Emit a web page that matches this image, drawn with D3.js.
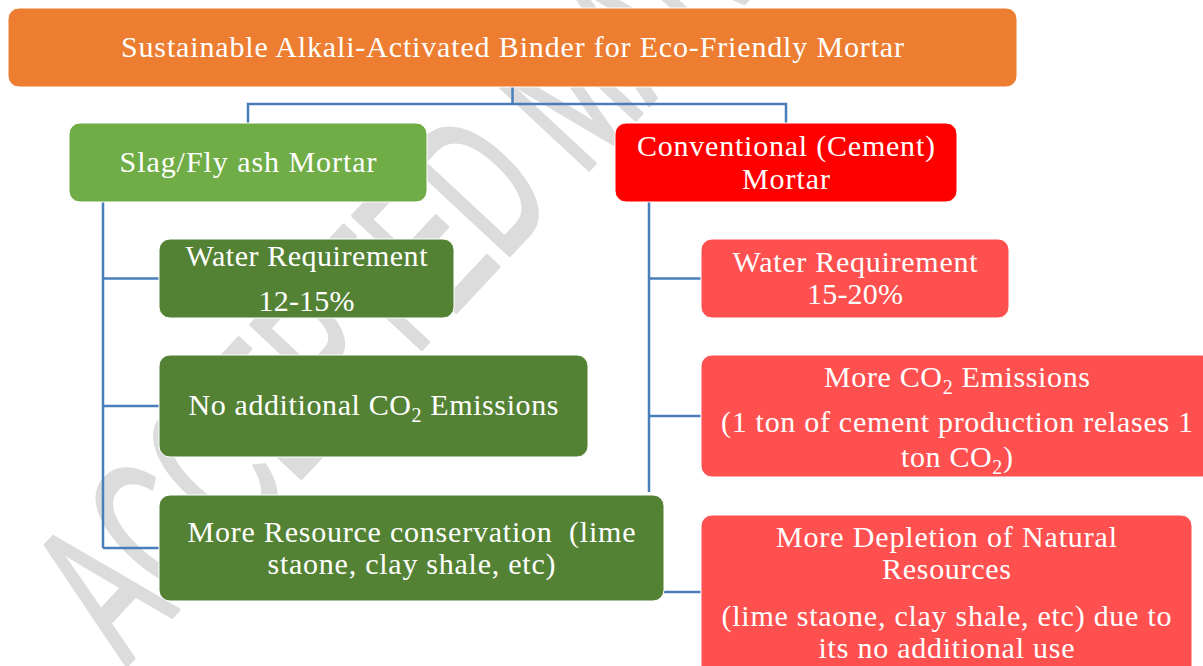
<!DOCTYPE html>
<html>
<head>
<meta charset="utf-8">
<style>
  body { margin: 0; background: #fff; }
  svg text.lbl { font-family: "Liberation Serif", "Times New Roman", serif; fill: #fff; white-space: pre; }
</style>
</head>
<body>
<svg width="1203" height="666"></svg>
<script src="https://d3js.org/d3.v7.min.js"></script>
<script>
// labels, one entry per line; "_2" marks a subscript 2
const titleLines = ["Sustainable Alkali-Activated Binder for Eco-Friendly Mortar"];
const branchLines = [
  ["Slag/Fly ash Mortar"],
  ["Conventional (Cement)", "Mortar"]
];
const slagLines = [
  ["Water Requirement", "12-15%"],
  ["No additional CO_2 Emissions"],
  ["More Resource conservation  (lime", "staone, clay shale, etc)"]
];
const cementLines = [
  ["Water Requirement", "15-20%"],
  ["More CO_2 Emissions", "(1 ton of cement production relases 1", "ton CO_2)"],
  ["More Depletion of Natural", "Resources", "(lime staone, clay shale, etc) due to", "its no additional use"]
];
const watermark = "ACCEPTED MANUSCRIPT";

// layout (pixels): box, line baselines, line widths as printed
const colors = { title: "#ED7D31", slag: "#70AD47", cement: "#FF0000", slagItem: "#548235", cementItem: "#FF5050", link: "#4A7EBB" };
const titleBox = { x: 8, y: 8, w: 1009, h: 79, base: [57], len: [783] };
const branchBox = [
  { x: 69, y: 123, w: 358, h: 79, base: [172], len: [257] },
  { x: 615, y: 123, w: 342, h: 79, base: [156, 189], len: [298, 88] }
];
const slagBox = [
  { x: 159, y: 239, w: 295, h: 79, base: [266, 311], len: [242, 96] },
  { x: 159, y: 355, w: 429, h: 102, base: [415], len: [370] },
  { x: 159, y: 495, w: 505, h: 106, base: [542, 574], len: [448, 288] }
];
const cementBox = [
  { x: 701, y: 239, w: 308, h: 79, base: [272, 304], len: [245, 96] },
  { x: 701, y: 355, w: 512, h: 122, base: [387, 432, 467], len: [266, 472, 112] },
  { x: 701, y: 515, w: 491, h: 170, base: [547, 579, 626, 658], len: [341, 129, 450, 256] }
];
const spineX = [103, 649];
const elbowY = 104;

const svg = d3.select("svg");
const fontSize = 30;

// watermark, behind everything
svg.append("text")
  .attr("transform", "translate(126,666) rotate(-47) scale(0.57,1)")
  .style("font-family", "'Liberation Sans', Arial, sans-serif")
  .style("font-size", "205px")
  .style("fill", "#dcdcdc")
  .style("stroke", "#dcdcdc")
  .style("stroke-width", 4)
  .style("stroke-linejoin", "round")
  .text(watermark);

// connectors
const link = svg.append("g")
  .attr("fill", "none")
  .attr("stroke", colors.link)
  .attr("stroke-width", 2.5);
const line = d3.line();
const mid = b => b.x + b.w / 2;
const cy = b => b.y + b.h / 2;

link.append("path").attr("d", line([[mid(titleBox), titleBox.y + titleBox.h], [mid(titleBox), elbowY]]));
link.append("path").attr("d", line([
  [mid(branchBox[0]), branchBox[0].y], [mid(branchBox[0]), elbowY],
  [mid(branchBox[1]), elbowY], [mid(branchBox[1]), branchBox[1].y]
]));

// left spine with three branches
link.append("path").attr("d", line([[spineX[0], branchBox[0].y + branchBox[0].h], [spineX[0], cy(slagBox[2])]]));
slagBox.forEach(b => link.append("path").attr("d", line([[spineX[0], cy(b)], [b.x, cy(b)]])));

// right spine with two branches, runs down to the last green box
link.append("path").attr("d", line([[spineX[1], branchBox[1].y + branchBox[1].h], [spineX[1], slagBox[2].y - 3]]));
cementBox.slice(0, 2).forEach(b => link.append("path").attr("d", line([[spineX[1], cy(b)], [b.x, cy(b)]])));

// last cement item hangs off the last slag item
const hangY = 592;
link.append("path").attr("d", line([[slagBox[2].x + slagBox[2].w, hangY], [cementBox[2].x, hangY]]));

function writeLine(t, str) {
  let shift = 0;
  str.split(/(_2)/).forEach(p => {
    if (p === "_2") {
      t.append("tspan").attr("dy", 7).style("font-size", Math.round(fontSize * 0.65) + "px").text("2");
      shift = -7;
    } else if (p.length) {
      const s = t.append("tspan").text(p);
      if (shift) { s.attr("dy", shift); shift = 0; }
    }
  });
}

function drawBox(b, lines, fill) {
  const g = svg.append("g");
  g.append("rect")
    .attr("x", b.x).attr("y", b.y)
    .attr("width", b.w).attr("height", b.h)
    .attr("rx", 11)
    .attr("fill", fill)
    .attr("stroke", "#fff").attr("stroke-width", 1);
  lines.forEach((ln, i) => {
    const t = g.append("text")
      .attr("class", "lbl")
      .attr("x", mid(b)).attr("y", b.base[i])
      .attr("text-anchor", "middle")
      .attr("textLength", b.len[i])
      .attr("lengthAdjust", "spacing")
      .style("font-size", fontSize + "px");
    writeLine(t, ln);
  });
}

drawBox(titleBox, titleLines, colors.title);
drawBox(branchBox[0], branchLines[0], colors.slag);
drawBox(branchBox[1], branchLines[1], colors.cement);
slagBox.forEach((b, i) => drawBox(b, slagLines[i], colors.slagItem));
cementBox.forEach((b, i) => drawBox(b, cementLines[i], colors.cementItem));
</script>
</body>
</html>
